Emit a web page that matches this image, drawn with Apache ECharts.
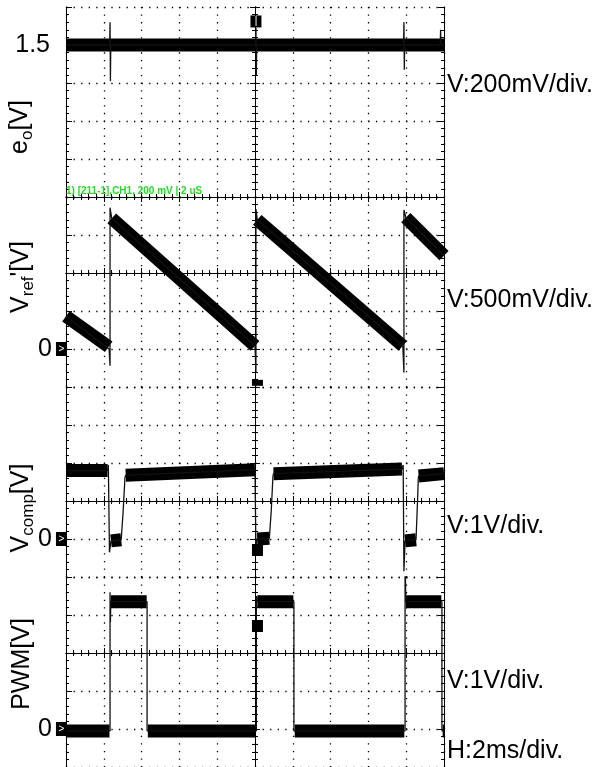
<!DOCTYPE html>
<html>
<head>
<meta charset="utf-8">
<script src="https://cdn.jsdelivr.net/npm/echarts@6/dist/echarts.min.js"></script>
<style>
  html, body { margin: 0; padding: 0; background: #fff; }
  #main { width: 603px; height: 767px; }
</style>
</head>
<body>
<div id="main"></div>
<script>
// time axis (ms), H:2ms/div, 10 div
var timeRange = [0, 20, 2];

// e_o [V] (200mV/div)
var eoBand = [
  [[0, 1.5], [20, 1.5]]
];
var eoTrace = [[0, 1.5], [2.31, 1.5], [2.33, 1.62], [2.35, 1.31], [2.37, 1.5], [10.03, 1.5], [10.05, 1.59], [10.07, 1.34],
  [10.09, 1.5], [17.86, 1.5], [17.88, 1.62], [17.9, 1.37], [17.92, 1.5], [19.8, 1.5], [19.82, 1.58], [19.84, 1.5], [20, 1.5]];

// V_ref' [V] (500mV/div)
var vrefBand = [
  [[0, 0.43], [2.26, 0.03]],
  [[2.42, 1.72], [10.0, 0.04]],
  [[10.12, 1.70], [17.82, 0.04]],
  [[17.98, 1.73], [20, 1.23]]
];
var vrefTrace = [[0, 0.43], [2.28, 0.0], [2.33, -0.22], [2.33, 1.86], [2.42, 1.72], [10.0, 0.04], [10.05, -0.3], [10.05, 1.84],
  [10.12, 1.70], [17.82, 0.04], [17.88, -0.31], [17.88, 1.83], [17.98, 1.73], [20, 1.23]];

// V_comp [V] (1V/div)
var vcompBand = [
  [[0, 1.8], [2.2, 1.8]],
  [[2.38, -0.05], [2.92, -0.02]],
  [[3.16, 1.68], [10.0, 1.82]],
  [[10.12, 0.0], [10.76, 0.02]],
  [[10.98, 1.72], [17.78, 1.84]],
  [[17.94, -0.05], [18.52, -0.02]],
  [[18.66, 1.66], [20, 1.72]]
];
var vcompTrace = [[0, 1.8], [2.2, 1.8], [2.24, 1.95], [2.3, -0.35], [2.38, -0.05], [2.92, -0.02], [3.02, 0.7], [3.12, 1.62],
  [3.16, 1.68], [10.0, 1.82], [10.05, -0.32], [10.12, 0.0], [10.76, 0.02], [10.86, 0.75], [10.95, 1.65], [10.98, 1.72],
  [17.78, 1.84], [17.84, 1.95], [17.88, -0.85], [17.94, -0.05], [18.52, -0.02], [18.6, 1.0], [18.64, 1.6], [18.66, 1.66], [20, 1.72]];

// PWM [V] (1V/div)
var pwmBand = [
  [[0, -0.05], [2.3, -0.05]],
  [[2.37, 3.35], [4.27, 3.35]],
  [[4.33, -0.05], [10.03, -0.05]],
  [[10.12, 3.35], [12.03, 3.35]],
  [[12.1, -0.05], [17.9, -0.05]],
  [[17.98, 3.35], [19.86, 3.35]],
  [[19.93, -0.05], [20, -0.05]]
];
var pwmTrace = [[0, -0.05], [2.33, -0.05], [2.33, 3.6], [2.35, 2.8], [2.37, 3.35], [4.29, 3.35], [4.29, -0.05], [10.07, -0.05],
  [10.07, 3.5], [10.12, 3.35], [12.06, 3.35], [12.06, -0.05], [17.94, -0.05], [17.94, 4.6], [17.98, 3.35], [19.89, 3.35],
  [19.89, -0.05], [20, -0.05]];

// scope markers
var trigMark = [[10.05, 1.624]];
var gndMarks = [[-0.24, 0]];
var posMarks = [[10.13, -0.445], [10.13, -0.29], [10.13, 2.71]];

// y scale per panel: [min, max, step], labelled tick, centre line
var yRanges = [[0.7, 1.7, 0.2], [-0.5, 2.0, 0.5], [-1, 4, 1], [-1, 4, 1]];
var yTickLabels = [[1.5, '1.5'], [0, '0'], [0, '0'], [0, '0']];
var yCenters = [0.7, 1.0, 1, 2];
var voltDiv = ['V:200mV/div.', 'V:500mV/div.', 'V:1V/div.', 'V:1V/div.'];

var chart = echarts.init(document.getElementById('main'));

var LEFT = 66, W = 378, TOP = 7, H = 190;
var FONT = '"Liberation Sans", Arial, Helvetica, sans-serif';
var black = { color: '#000', width: 1 };
var dotted = { color: '#000', width: 1.3, type: [1.3, 6.26] };

var bands = [eoBand, vrefBand, vcompBand, pwmBand];
var traces = [eoTrace, vrefTrace, vcompTrace, pwmTrace];
var labelMargin = [16, 14, 14, 14];

var grids = [], xAxes = [], yAxes = [], series = [];

yRanges.forEach(function (r, i) {
  grids.push({ left: LEFT, top: TOP + i * H, width: W, height: H });
  var crossOff = -(yCenters[i] - r[0]) / (r[1] - r[0]) * H;

  // dotted vertical grid
  xAxes.push({
    gridIndex: i, type: 'value', min: timeRange[0], max: timeRange[1], interval: timeRange[2],
    axisLine: { show: false, onZero: false }, axisTick: { show: false }, axisLabel: { show: false },
    splitLine: { show: true, lineStyle: dotted }
  });
  // horizontal centre line with ticks both ways
  [true, false].forEach(function (inside) {
    xAxes.push({
      gridIndex: i, type: 'value', position: 'bottom', offset: crossOff,
      min: timeRange[0], max: timeRange[1], interval: timeRange[2],
      axisLine: { show: true, onZero: false, lineStyle: black },
      axisTick: { show: true, inside: inside, length: 5, lineStyle: black },
      minorTick: { show: true, splitNumber: 5, length: 3, lineStyle: black },
      axisLabel: { show: false }, splitLine: { show: false }
    });
  });

  // left border, labels, dotted horizontal grid
  var lab = yTickLabels[i];
  yAxes.push({
    gridIndex: i, type: 'value', position: 'left', min: r[0], max: r[1], interval: r[2],
    axisLine: { show: true, onZero: false, lineStyle: black },
    axisTick: { show: true, inside: true, length: 6, lineStyle: black },
    minorTick: { show: true, splitNumber: 5, length: 3, lineStyle: black },
    axisLabel: {
      margin: labelMargin[i], fontSize: 25, fontFamily: FONT, color: '#000',
      formatter: function (v) { return Math.abs(v - lab[0]) < 1e-6 ? lab[1] : ''; }
    },
    splitLine: { show: true, lineStyle: dotted }
  });
  // right border
  yAxes.push({
    gridIndex: i, type: 'value', position: 'right', min: r[0], max: r[1], interval: r[2],
    axisLine: { show: true, onZero: false, lineStyle: black },
    axisTick: { show: true, inside: true, length: 6, lineStyle: black },
    minorTick: { show: true, splitNumber: 5, length: 3, lineStyle: black },
    axisLabel: { show: false }, splitLine: { show: false }
  });
  // vertical centre line
  [true, false].forEach(function (inside) {
    yAxes.push({
      gridIndex: i, type: 'value', position: 'left', offset: -W / 2, min: r[0], max: r[1], interval: r[2],
      axisLine: { show: true, onZero: false, lineStyle: black },
      axisTick: { show: true, inside: inside, length: 5, lineStyle: black },
      minorTick: { show: true, splitNumber: 5, length: 3, lineStyle: black },
      axisLabel: { show: false }, splitLine: { show: false }
    });
  });

  bands[i].forEach(function (seg) {
    series.push({
      type: 'line', xAxisIndex: 3 * i, yAxisIndex: 4 * i, data: seg, symbol: 'none',
      lineStyle: { color: '#000', width: 13 }, z: 3
    });
  });
  series.push({
    type: 'line', xAxisIndex: 3 * i, yAxisIndex: 4 * i, data: traces[i], symbol: 'none',
    lineStyle: { color: '#111', width: 1.3 }, z: 4
  });
  if (i > 0) {
    series.push({
      type: 'scatter', xAxisIndex: 3 * i, yAxisIndex: 4 * i, data: gndMarks, clip: false,
      symbol: 'rect', symbolSize: [11, 14], itemStyle: { color: '#000', opacity: 1 }, z: 6,
      label: { show: true, position: 'inside', formatter: '>', color: '#fff', fontSize: 10, fontFamily: FONT }
    });
    series.push({
      type: 'scatter', xAxisIndex: 3 * i, yAxisIndex: 4 * i, data: [posMarks[i - 1]], clip: false,
      symbol: 'rect', symbolSize: i === 1 ? [11, 6] : [11, 12], itemStyle: { color: '#000', opacity: 1 }, z: 6
    });
  } else {
    series.push({
      type: 'scatter', xAxisIndex: 0, yAxisIndex: 0, data: trigMark, clip: false,
      symbol: 'rect', symbolSize: [11, 12], itemStyle: { color: '#000', opacity: 1 }, z: 6,
      label: { show: true, position: 'inside', formatter: '|', color: '#fff', fontSize: 10 }
    });
  }
});

function txt(x, y, text, rot, rich) {
  var s = {
    text: text, font: '25px ' + FONT, fill: '#000',
    align: rot ? 'center' : 'left', verticalAlign: 'middle',
    textAlign: rot ? 'center' : 'left', textVerticalAlign: 'middle'
  };
  if (rich) s.rich = rich;
  return { type: 'text', x: x, y: y, rotation: rot ? Math.PI / 2 : 0, style: s, z: 10 };
}

var subRich = {
  n: { fontSize: 25, fontFamily: FONT, lineHeight: 32, verticalAlign: 'middle' },
  s: { fontSize: 17, fontFamily: FONT, lineHeight: 32, verticalAlign: 'bottom' }
};

var graphics = [
  txt(20, 127, '{n|e}{s|o}{n|[V]}', true, subRich),
  txt(21, 277, '{n|V}{s|ref}{n|\'[V]}', true, subRich),
  txt(21, 508, '{n|V}{s|comp}{n|[V]}', true, subRich),
  txt(22, 664, 'PWM[V]', true),
  txt(447, 85, voltDiv[0]),
  txt(447, 300, voltDiv[1]),
  txt(447, 526, voltDiv[2]),
  txt(447, 681, voltDiv[3]),
  txt(447, 751, 'H:2ms/div.'),
  {
    type: 'text', x: 66, y: 191, z: 10,
    style: {
      text: '1) [211-1],CH1, 200 mV | 2 uS', font: 'bold 10px ' + FONT, fill: '#22dd22',
      align: 'left', verticalAlign: 'middle', textAlign: 'left', textVerticalAlign: 'middle'
    }
  }
];

chart.setOption({
  animation: false,
  backgroundColor: '#fff',
  grid: grids,
  xAxis: xAxes,
  yAxis: yAxes,
  series: series,
  graphic: graphics
});
</script>
</body>
</html>
